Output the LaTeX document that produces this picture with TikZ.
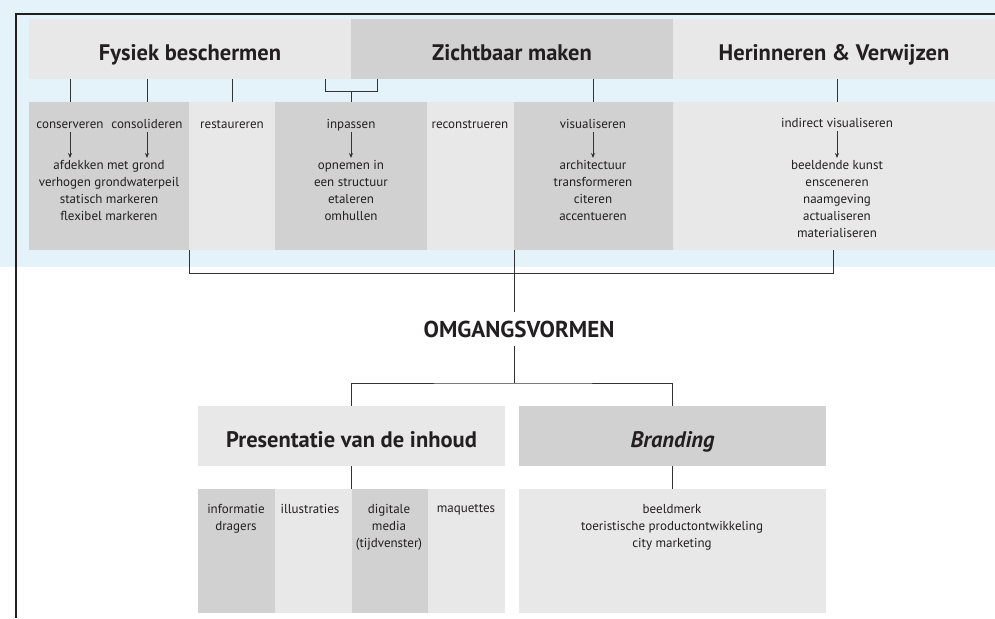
\documentclass[tikz,border=0pt]{standalone}
\usepackage{fontspec}
\setmainfont{PT Sans}
\usepackage{xcolor}
\usepackage{tikz}
\usetikzlibrary{arrows.meta,positioning}
\definecolor{sky}{RGB}{228,242,250}
\definecolor{ink}{RGB}{35,31,32}

\begin{document}
\begin{tikzpicture}[x=1pt,y=-1pt,text=ink,
hdr/.style={minimum width=322pt,minimum height=60pt,inner sep=0pt,outer sep=0pt,text height=22pt,text depth=0pt,font=\fontsize{22.5}{26}\selectfont\bfseries},
cell/.style={minimum height=148pt,inner sep=0pt,outer sep=0pt},
lbl/.style={inner sep=1pt,text height=9pt,text depth=2.5pt,font=\fontsize{13}{17}\selectfont},
lst/.style={anchor=north,align=center,inner sep=2pt,font=\fontsize{13}{17}\selectfont},
ln/.style={draw=black!80,line width=.8pt},
arr/.style={-{Stealth[length=5pt,width=4pt]},line width=.8pt,draw=black!80}]
% background and frame
\fill[sky] (0,0) rectangle (995,267);
\useasboundingbox (0,0) rectangle (995,618);
\draw[ink,line width=1.6pt] (16,618) -- (16,14) -- (995,14);
% top headers
\node[hdr,fill=black!9,anchor=north west] (fysiek) at (29,19) {Fysiek beschermen};
\node[hdr,fill=black!18,right=0pt of fysiek] (zicht) {Zichtbaar maken};
\node[hdr,fill=black!9,right=0pt of zicht] (herin) {Herinneren \& Verwijzen};
% cells
\node[cell,fill=black!18,minimum width=160pt,anchor=north west] (c1) at (29,102) {};
\node[cell,fill=black!9,minimum width=86pt,right=0pt of c1] (c2) {};
\node[cell,fill=black!18,minimum width=152pt,right=0pt of c2] (c3) {};
\node[cell,fill=black!9,minimum width=87pt,right=0pt of c3] (c4) {};
\node[cell,fill=black!18,minimum width=159pt,right=0pt of c4] (c5) {};
\node[cell,fill=black!9,minimum width=322pt,right=0pt of c5] (c6) {};
% labels
\node[lbl] (cons) at (70,125) {conserveren};
\node[lbl] (consol) at (147,125) {consolideren};
\node[lbl] (rest) at (232,125) {restaureren};
\node[lbl] (inp) at (351,125) {inpassen};
\node[lbl] (recon) at (470,125) {reconstrueren};
\node[lbl] (vis) at (593,125) {visualiseren};
\node[lbl] (indir) at (837,124) {indirect visualiseren};
\node[lst] (l1) at (109,158) {afdekken met grond\\verhogen grondwaterpeil\\statisch markeren\\flexibel markeren};
\node[lst] (l3) at (351,158) {opnemen in\\een structuur\\etaleren\\omhullen};
\node[lst] (l5) at (593,158) {architectuur\\transformeren\\citeren\\accentueren};
\node[lst] (l6) at (837,158) {beeldende kunst\\ensceneren\\naamgeving\\actualiseren\\materialiseren};
\draw[arr] (cons.south) -- (cons.south |- l1.north);
\draw[arr] (consol.south) -- (consol.south |- l1.north);
\draw[arr] (inp.south) -- (l3.north);
\draw[arr] (vis.south) -- (l5.north);
\draw[arr] (indir.south) -- (l6.north);
% header to cells
\draw[ln] (cons |- fysiek.south) -- (cons |- c1.north);
\draw[ln] (consol |- fysiek.south) -- (consol |- c1.north);
\draw[ln] (rest |- fysiek.south) -- (rest |- c2.north);
\draw[ln] (vis |- zicht.south) -- (vis |- c5.north);
\draw[ln] (indir |- herin.south) -- (indir |- c6.north);
\coordinate (brl) at (325,91);
\coordinate (brr) at (377,91);
\draw[ln] (brl |- fysiek.south) -- (brl) -- (brr) -- (brr |- zicht.south);
\draw[ln] (inp |- brl) -- (inp |- c3.north);
% omgangsvormen
\node[font=\fontsize{23}{27}\selectfont\bfseries,inner xsep=0pt,inner ysep=8pt] (omg) at (519,329) {OMGANGSVORMEN};
\coordinate (join) at (833,273);
\draw[ln] (c1.south east) |- (join) -- (join |- c6.south);
\draw[ln] (c5.south west) -- (c5.south west |- omg.north);
% bottom headers
\node[hdr,fill=black!9,minimum width=307pt,anchor=north west] (pres) at (198,406) {Presentatie van de inhoud};
\node[hdr,fill=black!18,minimum width=307pt,right=14pt of pres] (brand) {\itshape Branding};
\coordinate (split) at (514,383);
\draw[ln] (c5.south west |- omg.south) -- (split);
\draw[ln] (pres.north) |- (split) -| (brand.north);
% bottom cells
\node[cell,minimum height=124pt,fill=black!18,minimum width=77pt,anchor=north west] (p1) at (198,489) {};
\node[cell,minimum height=124pt,fill=black!9,minimum width=77pt,right=0pt of p1] (p2) {};
\node[cell,minimum height=124pt,fill=black!18,minimum width=76pt,right=0pt of p2] (p3) {};
\node[cell,minimum height=124pt,fill=black!9,minimum width=77pt,right=0pt of p3] (p4) {};
\node[cell,minimum height=124pt,fill=black!9,minimum width=307pt,anchor=north west] (bcell) at (519,489) {};
\draw[ln] (pres.south) -- (pres.south |- p1.north);
\draw[ln] (brand.south) -- (bcell.north);
\node[lst] (t1) at (236,502) {informatie\\dragers};
\node[lst] (t2) at (310,502) {illustraties};
\node[lst] (t3) at (389,502) {digitale\\media\\(tijdvenster)};
\node[lst] (t4) at (466,502) {maquettes};
\node[lst] (t5) at (672,502) {beeldmerk\\toeristische productontwikkeling\\city marketing};
\end{tikzpicture}
\end{document}
